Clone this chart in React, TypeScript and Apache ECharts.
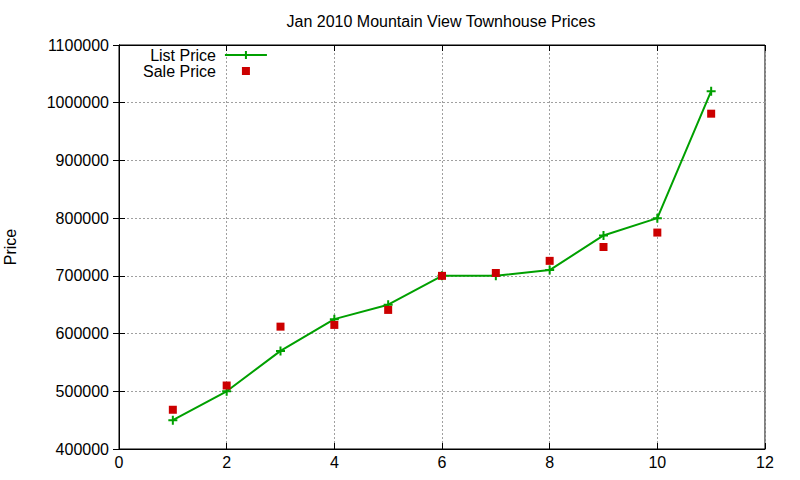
import React, { useEffect, useRef } from "react";
import * as echarts from "echarts";

const xValues = [1, 2, 3, 4, 5, 6, 7, 8, 9, 10, 11];
const listPrice = [450000, 500000, 570000, 625000, 650000, 700000, 700000, 710000, 770000, 800000, 1020000];
const salePrice = [468000, 510000, 612000, 615000, 641000, 700000, 705000, 726000, 750000, 775000, 981000];
const titleText = "Jan 2010 Mountain View Townhouse Prices";
const yName = "Price";
const seriesNames = ["List Price", "Sale Price"];

const FONT = "Liberation Sans, Arial, Helvetica, sans-serif";
const GREEN = "#00a000";
const RED = "#cc0000";

export default function App() {
  const ref = useRef<HTMLDivElement>(null);
  useEffect(() => {
    if (!ref.current) return;
    const chart = echarts.init(ref.current, undefined, { renderer: "svg" });
    const gridLine = { show: true, lineStyle: { color: "#a0a0a0", type: [2, 2], width: 1 } };
    const hiddenAxisBase = {
      axisLine: { show: true, lineStyle: { color: "#000", width: 1 } },
      axisTick: { show: true, inside: true, length: 6, lineStyle: { color: "#000" } },
      axisLabel: { show: false },
      splitLine: { show: false },
    };
    chart.setOption({
      animation: false,
      backgroundColor: "#fff",
      textStyle: { fontFamily: FONT },
      title: {
        text: titleText,
        left: 441,
        textAlign: "center",
        top: 13,
        padding: 0,
        textStyle: { fontFamily: FONT, fontSize: 16, fontWeight: "normal", color: "#000" },
      },
      legend: {
        data: seriesNames,
        orient: "vertical",
        align: "right",
        left: 143,
        top: 47,
        padding: 0,
        itemGap: 0,
        itemWidth: 42,
        itemHeight: 10,
        textStyle: { fontFamily: FONT, fontSize: 16, color: "#000", lineHeight: 16, padding: [0, 4, 0, 0] },
      },
      grid: {
        left: 119,
        right: 35,
        top: 45,
        bottom: 31,
        show: true,
        borderColor: "#000",
        borderWidth: 1,
        containLabel: false,
        outerBoundsMode: "none",
      },
      xAxis: [
        {
          type: "value",
          min: 0,
          max: 12,
          interval: 2,
          axisLine: { show: true, lineStyle: { color: "#000", width: 1 } },
          axisTick: { show: true, inside: true, length: 6, lineStyle: { color: "#000" } },
          axisLabel: { color: "#000", fontSize: 16, fontFamily: FONT, margin: 5 },
          splitLine: gridLine,
        },
        { type: "value", position: "top", min: 0, max: 12, interval: 2, ...hiddenAxisBase },
      ],
      yAxis: [
        {
          type: "value",
          min: 400000,
          max: 1100000,
          interval: 100000,
          name: yName,
          nameLocation: "middle",
          nameRotate: 90,
          nameGap: 101,
          nameTextStyle: { color: "#000", fontSize: 16, fontFamily: FONT },
          axisLine: { show: true, lineStyle: { color: "#000", width: 1 } },
          axisTick: { show: true, inside: true, length: 6, lineStyle: { color: "#000" } },
          axisLabel: { color: "#000", fontSize: 16, fontFamily: FONT, margin: 10, formatter: (v: number) => String(v) },
          splitLine: gridLine,
        },
        { type: "value", position: "right", min: 400000, max: 1100000, interval: 100000, ...hiddenAxisBase },
      ],
      series: [
        {
          name: seriesNames[0],
          type: "line",
          data: xValues.map((x, i) => [x, listPrice[i]]),
          symbol: "path://M5,0V10M0,5H10",
          symbolSize: 9,
          showAllSymbol: true,
          lineStyle: { color: GREEN, width: 2 },
          itemStyle: { color: GREEN, borderColor: GREEN, borderWidth: 2 },
          z: 3,
        },
        {
          name: seriesNames[1],
          type: "line",
          data: xValues.map((x, i) => [x, salePrice[i]]),
          symbol: "rect",
          symbolSize: 8,
          showAllSymbol: true,
          lineStyle: { color: RED, width: 0, opacity: 0 },
          itemStyle: { color: RED, opacity: 1 },
          z: 4,
        },
      ],
    });
    return () => chart.dispose();
  }, []);
  return <div ref={ref} style={{ position: "fixed", left: 0, top: 0, width: 800, height: 480 }} />;
}
